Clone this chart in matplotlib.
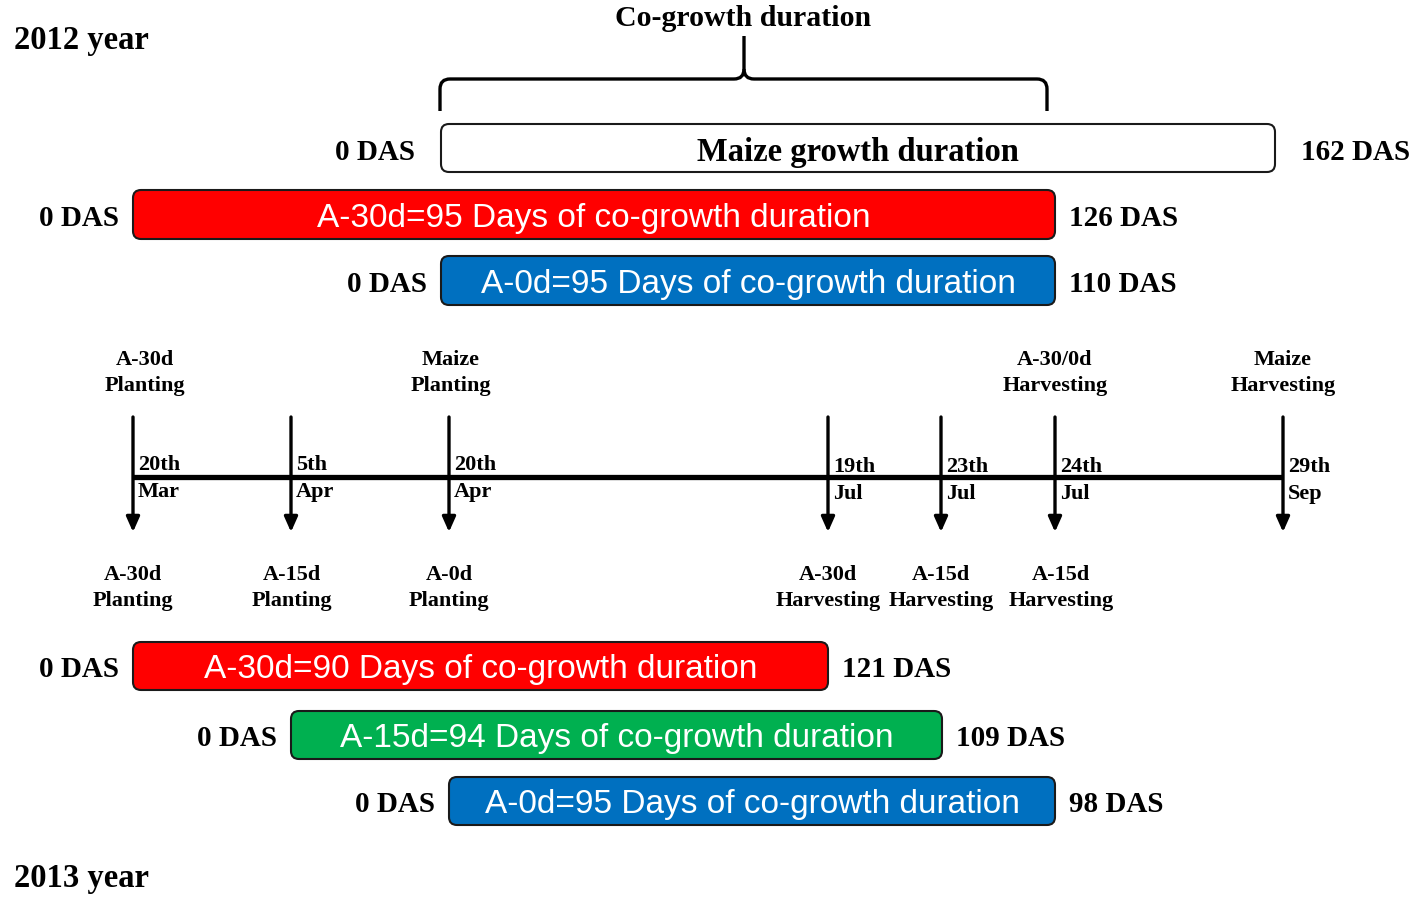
import matplotlib
matplotlib.use('Agg')
import matplotlib.pyplot as plt
from matplotlib.patches import FancyBboxPatch
from matplotlib.path import Path
from matplotlib.patches import PathPatch

SERIF = 'Liberation Serif'
SANS = 'Liberation Sans'
DY = 3  # small nudge so text sits where the reference has it

# ---- data ---------------------------------------------------------------
years = ['2012 year', '2013 year']

# timeline events (schematic, left to right)
event_dates = ['20th\nMar', '5th\nApr', '20th\nApr', '19th\nJul',
               '23th\nJul', '24th\nJul', '29th\nSep']
top_labels = ['A-30d\nPlanting', '', 'Maize\nPlanting', '', '', 'A-30/0d\nHarvesting',
              'Maize\nHarvesting']
bottom_labels = ['A-30d\nPlanting', 'A-15d\nPlanting', 'A-0d\nPlanting',
                 'A-30d\nHarvesting', 'A-15d\nHarvesting', 'A-15d\nHarvesting', '']

# 2012 bars
bars_2012 = ['Maize growth duration',
             'A-30d=95 Days of co-growth duration',
             'A-0d=95 Days of co-growth duration']
das_end_2012 = [162, 126, 110]

# 2013 bars
bars_2013 = ['A-30d=90 Days of co-growth duration',
             'A-15d=94 Days of co-growth duration',
             'A-0d=95 Days of co-growth duration']
das_end_2013 = [121, 109, 98]

# ---- layout (pixel positions of the schematic) ----------------------------
event_x = [133, 291, 449, 828, 941, 1055, 1283]
top_label_x = [145, 0, 451, 0, 0, 1055, 1283]
bottom_label_x = [133, 292, 449, 828, 941, 1061, 0]

span_2012 = [(441, 1275), (133, 1055), (441, 1055)]
rows_2012 = [(125, 173), (191, 240), (257, 306)]
gap_2012 = [26, 14, 14]
colors_2012 = ['white', '#FF0000', '#0070C0']

span_2013 = [(133, 828), (291, 942), (449, 1055)]
rows_2013 = [(643, 691), (712, 760), (778, 826)]
colors_2013 = ['#FF0000', '#00B050', '#0070C0']

fig = plt.figure(figsize=(14.22, 9.04), dpi=100)
ax = fig.add_axes([0, 0, 1, 1])
ax.set_xlim(0, 1422)
ax.set_ylim(904, 0)
ax.axis('off')


def draw_bar(x0, x1, y0, y1, color, label, das, gap):
    box = FancyBboxPatch((x0, y0), x1 - x0, y1 - y0,
                         boxstyle='round,pad=0,rounding_size=8',
                         facecolor=color, edgecolor='#1a1a1a', lw=1.5)
    ax.add_patch(box)
    yc = (y0 + y1) / 2 + DY
    if color == 'white':
        ax.text((x0 + x1) / 2, yc, label, ha='center', va='center',
                family=SERIF, weight='bold', fontsize=23.5, color='black')
    else:
        ax.text((x0 + x1) / 2, yc, label, ha='center', va='center',
                family=SANS, fontsize=24, color='white')
    ax.text(x0 - gap, yc, '0 DAS', ha='right', va='center',
            family=SERIF, weight='bold', fontsize=21)
    ax.text(x1 + gap, yc, '%d DAS' % das, ha='left', va='center',
            family=SERIF, weight='bold', fontsize=21)


def draw_lines(x, y, text, step=26, size=16):
    for i, line in enumerate(text.split('\n')):
        ax.text(x, y + i * step + DY, line, ha='center', va='center',
                family=SERIF, weight='bold', fontsize=size)


# year titles
ax.text(14, 37 + DY, years[0], ha='left', va='center', family=SERIF,
        weight='bold', fontsize=23.5)
ax.text(14, 876 + DY, years[1], ha='left', va='center', family=SERIF,
        weight='bold', fontsize=23.5)

# brace over co-growth period
ax.text(743, 15 + DY, 'Co-growth duration', ha='center', va='center',
        family=SERIF, weight='bold', fontsize=21.5)
bl, br, bc, by, r = 440, 1047, 744, 80, 10
verts = [(bl, 112), (bl, by + r), (bl, by), (bl + r, by),
         (bc - r, by), (bc, by), (bc, by - r), (bc, 37)]
codes = [Path.MOVETO, Path.LINETO, Path.CURVE3, Path.CURVE3,
         Path.LINETO, Path.CURVE3, Path.CURVE3, Path.LINETO]
ax.add_patch(PathPatch(Path(verts, codes), fill=False, lw=2.4, color='black'))
verts = [(br, 112), (br, by + r), (br, by), (br - r, by),
         (bc + r, by), (bc, by), (bc, by - r)]
codes = [Path.MOVETO, Path.LINETO, Path.CURVE3, Path.CURVE3,
         Path.LINETO, Path.CURVE3, Path.CURVE3]
ax.add_patch(PathPatch(Path(verts, codes), fill=False, lw=2.4, color='black'))

# 2012 bars
for i in range(3):
    draw_bar(span_2012[i][0], span_2012[i][1], rows_2012[i][0], rows_2012[i][1],
             colors_2012[i], bars_2012[i], das_end_2012[i], gap_2012[i])

# timeline
ax.plot([event_x[0], event_x[-1]], [478, 478], color='black', lw=3.8,
        solid_capstyle='butt')
for i, x in enumerate(event_x):
    ax.annotate('', xy=(x, 533), xytext=(x, 418),
                arrowprops=dict(arrowstyle='-|>,head_length=0.9,head_width=0.4',
                                lw=2.4, color='black', shrinkA=0, shrinkB=0),
                )
    day, month = event_dates[i].split('\n')
    dy = DY if i < 3 else DY + 2
    ax.text(x + 5, 462 + dy, day, ha='left', va='center', family=SERIF,
            weight='bold', fontsize=16)
    ax.text(x + 5, 489 + dy, month, ha='left', va='center', family=SERIF,
            weight='bold', fontsize=16)
    if top_labels[i]:
        draw_lines(top_label_x[i], 357, top_labels[i])
    if bottom_labels[i]:
        draw_lines(bottom_label_x[i], 572, bottom_labels[i])

# 2013 bars
for i in range(3):
    draw_bar(span_2013[i][0], span_2013[i][1], rows_2013[i][0], rows_2013[i][1],
             colors_2013[i], bars_2013[i], das_end_2013[i], 14)

fig.savefig('out.png', dpi=100, facecolor='white')
